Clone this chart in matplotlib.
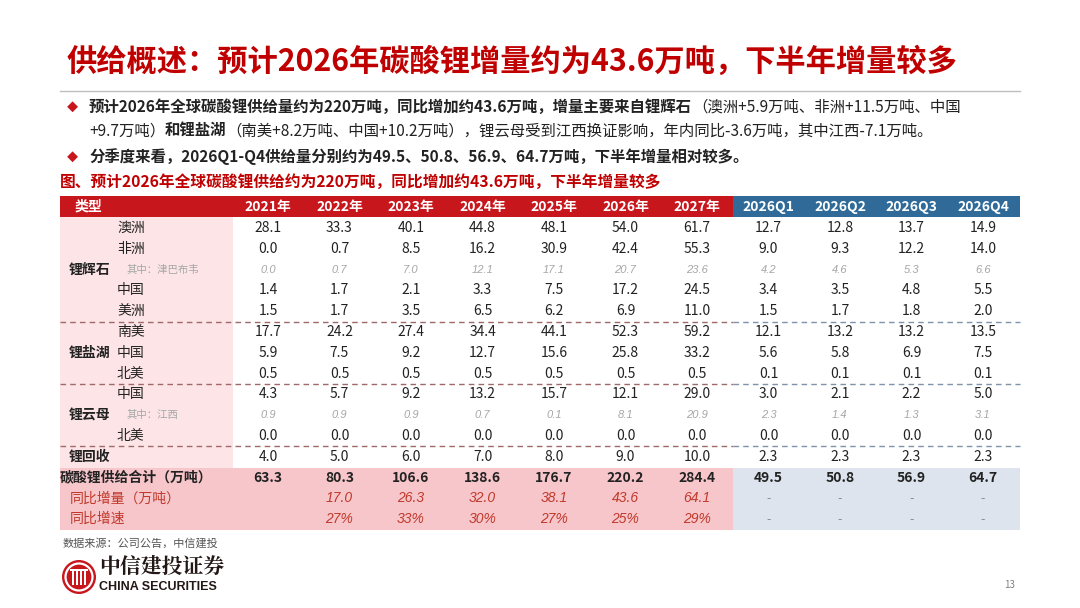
import numpy as np
import matplotlib.pyplot as plt
from matplotlib.patches import Rectangle, Circle

plt.rcParams['font.family'] = ['Noto Sans CJK SC', 'DejaVu Sans']
plt.rcParams['axes.unicode_minus'] = False

# ---------------- 数据 ----------------
columns = ['2021年', '2022年', '2023年', '2024年', '2025年', '2026年', '2027年',
           '2026Q1', '2026Q2', '2026Q3', '2026Q4']

aus = [28.1, 33.3, 40.1, 44.8, 48.1, 54.0, 61.7, 12.7, 12.8, 13.7, 14.9]
africa = [0.0, 0.7, 8.5, 16.2, 30.9, 42.4, 55.3, 9.0, 9.3, 12.2, 14.0]
zimbabwe = [0.0, 0.7, 7.0, 12.1, 17.1, 20.7, 23.6, 4.2, 4.6, 5.3, 6.6]
spod_china = [1.4, 1.7, 2.1, 3.3, 7.5, 17.2, 24.5, 3.4, 3.5, 4.8, 5.5]
spod_america = [1.5, 1.7, 3.5, 6.5, 6.2, 6.9, 11.0, 1.5, 1.7, 1.8, 2.0]
brine_sa = [17.7, 24.2, 27.4, 34.4, 44.1, 52.3, 59.2, 12.1, 13.2, 13.2, 13.5]
brine_china = [5.9, 7.5, 9.2, 12.7, 15.6, 25.8, 33.2, 5.6, 5.8, 6.9, 7.5]
brine_na = [0.5, 0.5, 0.5, 0.5, 0.5, 0.5, 0.5, 0.1, 0.1, 0.1, 0.1]
lepi_china = [4.3, 5.7, 9.2, 13.2, 15.7, 12.1, 29.0, 3.0, 2.1, 2.2, 5.0]
jiangxi = [0.9, 0.9, 0.9, 0.7, 0.1, 8.1, 20.9, 2.3, 1.4, 1.3, 3.1]
lepi_na = [0.0, 0.0, 0.0, 0.0, 0.0, 0.0, 0.0, 0.0, 0.0, 0.0, 0.0]
recycle = [4.0, 5.0, 6.0, 7.0, 8.0, 9.0, 10.0, 2.3, 2.3, 2.3, 2.3]
total = [63.3, 80.3, 106.6, 138.6, 176.7, 220.2, 284.4, 49.5, 50.8, 56.9, 64.7]
yoy_inc = [None, 17.0, 26.3, 32.0, 38.1, 43.6, 64.1, None, None, None, None]
yoy_rate = [None, 27, 33, 30, 27, 25, 29, None, None, None, None]

# (分组, 子项, 数值, 是否为“其中”行)
rows = [
    ('', '澳洲', aus, False),
    ('', '非洲', africa, False),
    ('锂辉石', '其中：津巴布韦', zimbabwe, True),
    ('', '中国', spod_china, False),
    ('', '美洲', spod_america, False),
    ('', '南美', brine_sa, False),
    ('锂盐湖', '中国', brine_china, False),
    ('', '北美', brine_na, False),
    ('', '中国', lepi_china, False),
    ('锂云母', '其中：江西', jiangxi, True),
    ('', '北美', lepi_na, False),
    ('锂回收', '', recycle, False),
]

RED = '#c8161d'
BLUE = '#2f6a98'
DARK = '#222222'

fig = plt.figure(figsize=(10.8, 6.08), dpi=100)
ax = fig.add_axes([0, 0, 1, 1])
ax.set_xlim(0, 1080)
ax.set_ylim(608, 0)
ax.axis('off')
renderer = fig.canvas.get_renderer()


def runs(x, y, parts, size):
    # 依次写出不同粗细/颜色的文字片段
    for txt, weight, color in parts:
        t = ax.text(x, y, txt, fontsize=size, fontweight=weight, color=color,
                    ha='left', va='center')
        x += t.get_window_extent(renderer=renderer).width


# ---------------- 标题与要点 ----------------
ax.text(67, 62, '供给概述：预计2026年碳酸锂增量约为43.6万吨，下半年增量较多',
        fontsize=21.8, fontweight='bold', color='#c00000', ha='left', va='center')
ax.plot([60, 1020], [91, 91], color='#bfbfbf', lw=1)

bsize = 11.1
ax.text(72, 107, '◆', fontsize=8, color=RED, ha='center', va='center')
runs(89, 107, [('预计2026年全球碳酸锂供给量约为220万吨，同比增加约43.6万吨，增量主要来自锂辉石', 'bold', DARK),
               ('（澳洲+5.9万吨、非洲+11.5万吨、中国', 'normal', DARK)], bsize)
runs(89, 131, [('+9.7万吨）', 'normal', DARK), ('和锂盐湖', 'bold', DARK),
               ('（南美+8.2万吨、中国+10.2万吨），锂云母受到江西换证影响，年内同比-3.6万吨，其中江西-7.1万吨。',
                'normal', DARK)], bsize)
ax.text(72, 157, '◆', fontsize=8, color=RED, ha='center', va='center')
runs(89, 157, [('分季度来看，2026Q1-Q4供给量分别约为49.5、50.8、56.9、64.7万吨，下半年增量相对较多。',
                'bold', DARK)], bsize)
ax.text(60, 182, '图、预计2026年全球碳酸锂供给约为220万吨，同比增加约43.6万吨，下半年增量较多',
        fontsize=11.3, fontweight='bold', color='#c00000', ha='left', va='center')

# ---------------- 表格 ----------------
x0, x_split, x1 = 60, 733, 1020
label_w = 233
col_x = [268 + 71.5 * i for i in range(len(columns))]
top, head_h = 196, 21
row_y = [228 + 20.8 * k for k in range(15)]
tot_top = 467.5
bottom = 530

# 背景
ax.add_patch(Rectangle((x0, top), x_split - x0, head_h, color=RED, lw=0))
ax.add_patch(Rectangle((x_split, top), x1 - x_split, head_h, color=BLUE, lw=0))
ax.add_patch(Rectangle((x0, top + head_h), label_w - x0, tot_top - top - head_h,
                       color='#fde5e7', lw=0))
ax.add_patch(Rectangle((x0, tot_top), x_split - x0, bottom - tot_top, color='#f7c6ca', lw=0))
ax.add_patch(Rectangle((x_split, tot_top), x1 - x_split, bottom - tot_top, color='#dde4ee', lw=0))

# 表头
ax.text(88, 206.5, '类型', fontsize=10, fontweight='bold', color='white', ha='center', va='center')
for cx, c in zip(col_x, columns):
    ax.text(cx, 206.5, c, fontsize=10, fontweight='bold', color='white', ha='center', va='center')

# 数据行
for k, (grp, sub, vals, note) in enumerate(rows):
    y = row_y[k]
    if grp:
        ax.text(69, y, grp, fontsize=10, fontweight='bold', color=DARK, ha='left', va='center')
    if note:
        ax.text(127, y, sub, fontsize=7.5, color='#a6a6a6', ha='left', va='center')
    elif sub:
        ax.text(117, y, sub, fontsize=10, color=DARK, ha='left', va='center')
    for cx, v in zip(col_x, vals):
        if note:
            ax.text(cx, y, f'{v:.1f}', fontsize=8, color='#a6a6a6', style='italic',
                    family=['Liberation Sans', 'DejaVu Sans'], ha='center', va='center')
        else:
            ax.text(cx, y, f'{v:.1f}', fontsize=10, color=DARK, ha='center', va='center')

# 分隔虚线
for yy in [321.6, 384.0, 446.4]:
    ax.plot([x0, x_split], [yy, yy], color='#a06868', lw=1, ls=(0, (4, 3)))
    ax.plot([x_split, x1], [yy, yy], color='#7f93aa', lw=1, ls=(0, (4, 3)))

# 合计与同比
ax.text(60, row_y[12], '碳酸锂供给合计（万吨）', fontsize=10, fontweight='bold', color=DARK,
        ha='left', va='center')
ax.text(70, row_y[13], '同比增量（万吨）', fontsize=10, color='#c0392b', ha='left', va='center')
ax.text(70, row_y[14], '同比增速', fontsize=10, color='#c0392b', ha='left', va='center')
for i, cx in enumerate(col_x):
    ax.text(cx, row_y[12], f'{total[i]:.1f}', fontsize=10, fontweight='bold', color=DARK,
            ha='center', va='center')
    if i >= 7:
        for y in (row_y[13], row_y[14]):
            ax.text(cx, y, '-', fontsize=9, color='#8c8c8c', ha='center', va='center')
        continue
    if yoy_inc[i] is not None:
        ax.text(cx, row_y[13], f'{yoy_inc[i]:.1f}', fontsize=10, color='#c0392b', style='italic',
                family=['Liberation Sans', 'DejaVu Sans'], ha='center', va='center')
    if yoy_rate[i] is not None:
        ax.text(cx, row_y[14], f'{yoy_rate[i]}%', fontsize=10, color='#c0392b', style='italic',
                family=['Liberation Sans', 'DejaVu Sans'], ha='center', va='center')

# ---------------- 页脚 ----------------
ax.text(63, 543, '数据来源：公司公告，中信建投', fontsize=8, color='#555555', ha='left', va='center')

# 标识（简化）
ax.add_patch(Circle((79, 577), 17, color='#c8161d', lw=0))
ax.add_patch(Circle((79, 577), 13.5, fill=False, ec='white', lw=1.6))
for dx in (-6, -2, 2, 6):
    ax.add_patch(Rectangle((79 + dx - 1, 569), 2, 16, color='white', lw=0))
ax.add_patch(Rectangle((70, 569), 18, 2, color='white', lw=0))
ax.text(99, 567, '中信建投证券', fontsize=15, fontweight='bold', color='#231815',
        family=['Noto Serif CJK SC', 'Noto Sans CJK SC'], ha='left', va='center')
ax.text(99, 587, 'CHINA SECURITIES', fontsize=9, fontweight='bold', color='#231815',
        family=['Liberation Sans', 'DejaVu Sans'], ha='left', va='center')
ax.text(1010, 585, '13', fontsize=7, color='#808080', ha='center', va='center')

fig.savefig('out.png', dpi=100)
